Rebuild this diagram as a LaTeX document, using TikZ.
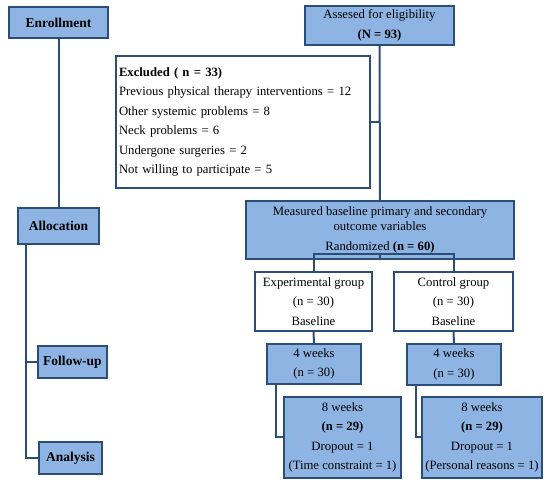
\documentclass[tikz,border=0pt]{standalone}
\usepackage{fontspec}
\setmainfont{Liberation Serif}
\definecolor{fillblue}{HTML}{8EB4E3}
\definecolor{edgeblue}{HTML}{2C4D75}
\begin{document}
\begin{tikzpicture}[x=1pt,y=-1pt,
  base/.style={draw=edgeblue,line width=1.6pt,rectangle,inner sep=1pt,align=center,
    font=\fontsize{12.7}{19.5}\selectfont,text=black},
  bluebox/.style={base,fill=fillblue},
  whitebox/.style={base,fill=white},
  conn/.style={draw=edgeblue,line width=2pt}]
\useasboundingbox (0,0) rectangle (550,484);
% connectors (drawn first, boxes on top)
\coordinate (enc) at (58.5,38);
\node[bluebox,minimum width=99pt,minimum height=31pt,font=\fontsize{13.5}{19.5}\selectfont] (enroll) at (58.5,22.5) {\textbf{Enrollment}};
\node[bluebox,minimum width=81pt,minimum height=36pt,font=\fontsize{13.5}{19.5}\selectfont] (alloc) at (58.5,226) {\textbf{Allocation}};
\node[bluebox,minimum width=69pt,minimum height=32pt,font=\fontsize{13.5}{19.5}\selectfont] (follow) at (72.5,362) {\textbf{Follow-up}};
\node[bluebox,minimum width=63pt,minimum height=32pt,font=\fontsize{13.5}{19.5}\selectfont] (analysis) at (70.5,458) {\textbf{Analysis}};
\node[bluebox,minimum width=149pt,minimum height=39pt] (assess) at (379.5,25.5) {Assesed for eligibility\\\textbf{(N = 93)}};
\node[whitebox,minimum width=254pt,minimum height=132pt,text width=248pt,align=left] (excl) at (243,122)
  {\textbf{Excluded ( n = 33)}\\Previous physical therapy interventions = 12\\Other systemic problems = 8\\Neck problems = 6\\Undergone surgeries = 2\\Not willing to participate = 5};
\node[bluebox,minimum width=268pt,minimum height=58pt] (meas) at (380,230)
  {Measured baseline primary and secondary\\[-4.5pt]outcome variables\\Randomized \textbf{(n = 60)}};
\node[whitebox,minimum width=117pt,minimum height=59pt] (exp) at (313.5,301.5) {Experimental group\\(n = 30)\\Baseline};
\node[whitebox,minimum width=119pt,minimum height=59pt] (ctrl) at (453.5,301.5) {Control group\\(n = 30)\\Baseline};
\node[bluebox,minimum width=94pt,minimum height=40pt] (wfe) at (314,364) {4 weeks\\(n = 30)};
\node[bluebox,minimum width=94pt,minimum height=41pt] (wfc) at (454,364.5) {4 weeks\\(n = 30)};
\node[bluebox,minimum width=117pt,minimum height=81pt] (wee) at (342.5,437.5) {8 weeks\\\textbf{(n = 29)}\\Dropout = 1\\(Time constraint = 1)};
\node[bluebox,minimum width=120pt,minimum height=81pt] (wec) at (482,437.5) {8 weeks\\\textbf{(n = 29)}\\Dropout = 1\\(Personal reasons = 1)};
% connectors
\draw[conn] (enroll.south) -- (alloc.north);
\draw[conn] ([xshift=9pt]alloc.south west) |- (follow.west);
\draw[conn] ([xshift=9pt]alloc.south west) |- (analysis.west);
\draw[conn] (assess.south) -- (meas.north);
\draw[conn] (excl.east) -- (excl.east -| assess.south);
\coordinate (split) at ([yshift=6pt]meas.south);
\draw[conn] (meas.south) -- (split) -| (exp.north);
\draw[conn] (split) -| (ctrl.north);
\draw[conn] (exp.south) -- (wfe.north);
\draw[conn] (ctrl.south) -- (wfc.north);
\draw[conn] ([xshift=10pt]wfe.south west) |- (wee.west);
\draw[conn] ([xshift=10pt]wfc.south west) |- (wec.west);
\end{tikzpicture}
\end{document}
